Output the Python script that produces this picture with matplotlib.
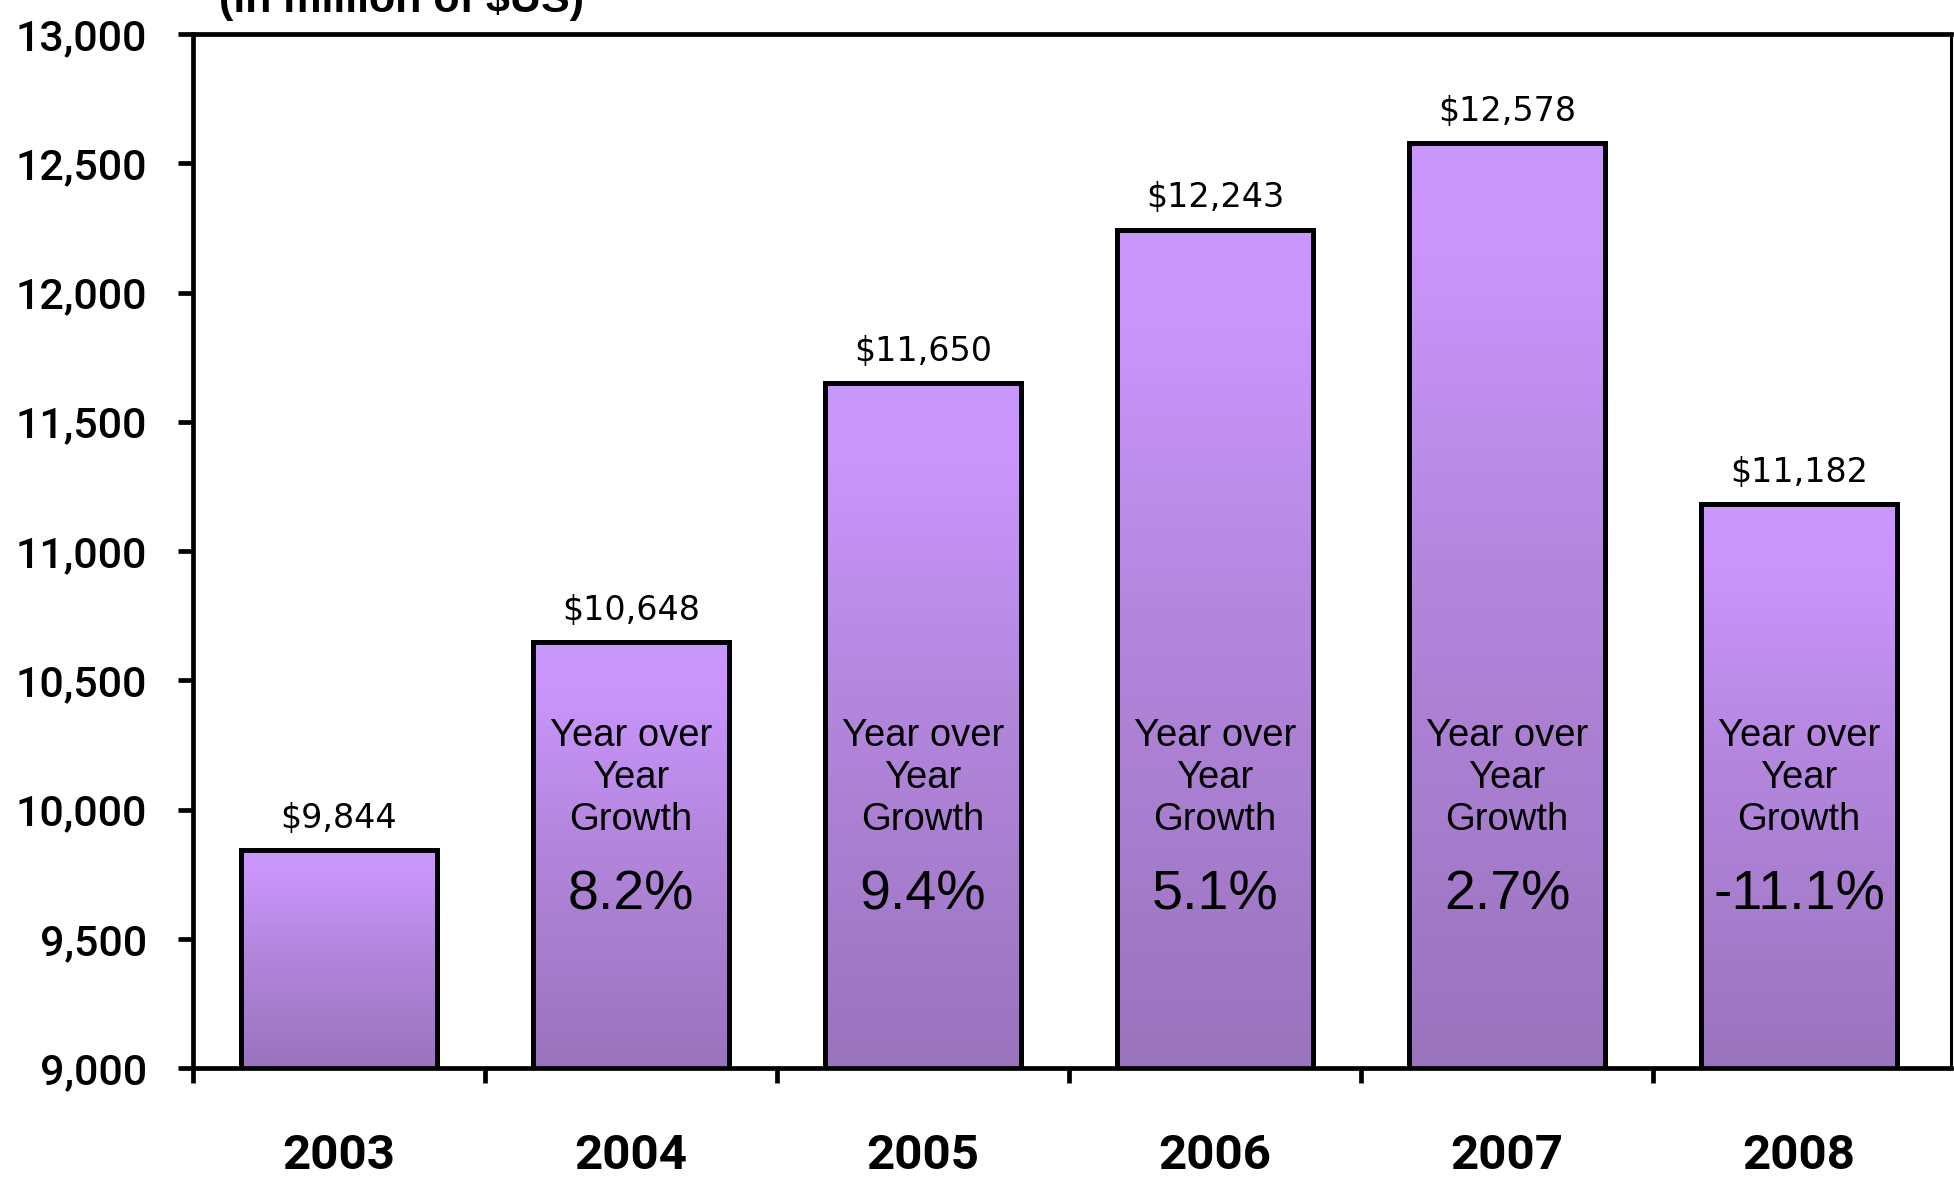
import numpy as np
import matplotlib
matplotlib.use("Agg")
import matplotlib.pyplot as plt
from matplotlib.colors import LinearSegmentedColormap
from matplotlib.ticker import FuncFormatter, FixedLocator

years = ["2003", "2004", "2005", "2006", "2007", "2008"]
values = [9844, 10648, 11650, 12243, 12578, 11182]
value_labels = ["$9,844", "$10,648", "$11,650", "$12,243", "$12,578", "$11,182"]
growth_labels = ["", "8.2%", "9.4%", "5.1%", "2.7%", "-11.1%"]
y_ticks = [9000, 9500, 10000, 10500, 11000, 11500, 12000, 12500, 13000]
unit_title = "(in million of $US)"

W, H, DPI = 1954, 1178, 100
fig = plt.figure(figsize=(W / DPI, H / DPI), dpi=DPI)
ax = fig.add_axes([193 / W, 1 - 1068 / H, (1951 - 193) / W, (1068 - 34) / H])

x = np.arange(len(years))
bar_w = 0.67
bars = ax.bar(x, values, width=bar_w, bottom=0, color="none",
              edgecolor="black", linewidth=3.6, zorder=3)

# vertical lavender gradient, light at the top of each bar
cmap = LinearSegmentedColormap.from_list(
    "lav", [(0.0, "#9a73bd"), (0.55, "#b487de"), (0.88, "#c995fb"), (1.0, "#ca97fd")])
grad = np.linspace(0, 1, 256).reshape(-1, 1)
for b, v in zip(bars, values):
    x0 = b.get_x()
    im = ax.imshow(grad, extent=[x0, x0 + bar_w, 9000, v], origin="lower",
                   aspect="auto", cmap=cmap, zorder=2, interpolation="bilinear")
    im.set_clip_path(b)

ax.set_xlim(-0.5, 5.52)
ax.set_ylim(9000, 13000)

# spines
for s in ax.spines.values():
    s.set_linewidth(3.4)
    s.set_color("black")
ax.spines["right"].set_linewidth(2.2)

# y axis
ax.yaxis.set_major_locator(FixedLocator(y_ticks))
ax.yaxis.set_major_formatter(FuncFormatter(lambda v, p: f"{int(v):,}"))
ax.tick_params(axis="y", direction="out", length=11, width=3.4, pad=22,
               labelsize=31)
for lab in ax.get_yticklabels():
    lab.set_family(["Roboto", "DejaVu Sans"])
    lab.set_fontweight("medium")

# x axis: ticks at category boundaries, labels at centres
ax.set_xticks(x)
ax.set_xticklabels(years, fontsize=35.5, fontweight="bold",
                   family=["Roboto", "DejaVu Sans"])
ax.tick_params(axis="x", which="major", length=0, pad=47)
ax.set_xticks(np.arange(-0.5, 5.0, 1.0), minor=True)
ax.tick_params(axis="x", which="minor", direction="out", length=11, width=3.4)

# value labels above bars
for xi, v, lab in zip(x, values, value_labels):
    ax.annotate(lab, (xi, v), xytext=(0, 11), textcoords="offset points",
                ha="center", va="bottom", fontsize=24,
                family=["DejaVu Sans"], zorder=5)

# growth captions inside bars
for xi, g in zip(x, growth_labels):
    if not g:
        continue
    ax.text(xi, 10122, "Year over\nYear\nGrowth", ha="center", va="center",
            fontsize=27.5, family=["Liberation Sans", "DejaVu Sans"],
            linespacing=1.2, zorder=5)
    ax.text(xi, 9669, g, ha="center", va="center", fontsize=40,
            family=["Liberation Sans", "DejaVu Sans"], zorder=5)

fig.text(219 / W, 1 - 12 / H, unit_title, ha="left", va="baseline",
         fontsize=31, fontweight="bold",
         family=["Liberation Sans Narrow", "Liberation Sans"])

fig.savefig("out.png", dpi=DPI, facecolor="white")
